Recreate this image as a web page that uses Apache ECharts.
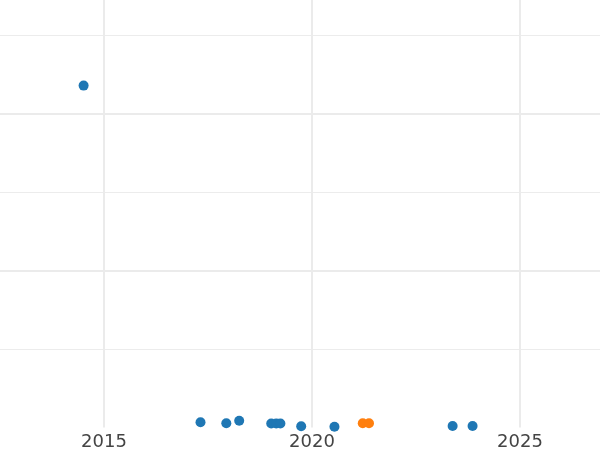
<!DOCTYPE html>
<html>
<head>
<meta charset="utf-8">
<script src="https://cdn.jsdelivr.net/npm/echarts@6/dist/echarts.min.js"></script>
<style>
html,body{margin:0;padding:0;background:#fff;width:600px;height:450px;overflow:hidden;position:relative;}
#c{position:absolute;left:-104px;top:-43px;width:832px;height:493px;}
</style>
</head>
<body>
<div id="c"></div>
<script>
const blueX = [2014.51, 2017.32, 2017.94, 2018.25, 2019.02, 2019.14, 2019.24, 2019.74, 2020.54, 2023.38, 2023.86];
const blueY = [4.36, 0.066, 0.054, 0.087, 0.05, 0.052, 0.05, 0.015, 0.01, 0.02, 0.02];
const orangeX = [2021.22, 2021.37];
const orangeY = [0.054, 0.054];
const xTicks = [2015, 2020, 2025];

const chart = echarts.init(document.getElementById('c'), null, {renderer: 'canvas'});
chart.setOption({
  animation: false,
  backgroundColor: '#ffffff',
  grid: {left: 0, right: 0, top: 0, bottom: 22.5, containLabel: false, outerBoundsMode: 'none'},
  xAxis: {
    type: 'value', min: 2010, max: 2030, interval: 5,
    axisLine: {show: false}, axisTick: {show: false},
    axisLabel: {
      color: '#444', fontFamily: 'DejaVu Sans', fontSize: 18, margin: 6,
      formatter: v => xTicks.includes(v) ? String(v) : ''
    },
    splitLine: {show: true, lineStyle: {color: '#ebebeb', width: 2}}
  },
  yAxis: {
    type: 'value', min: 0, max: 6, interval: 2,
    axisLine: {show: false}, axisTick: {show: false}, axisLabel: {show: false},
    splitLine: {show: true, showMinLine: false, lineStyle: {color: '#ebebeb', width: 2}},
    minorTick: {show: false, splitNumber: 2},
    minorSplitLine: {show: true, lineStyle: {color: '#ececec', width: 1}}
  },
  series: [
    {type: 'scatter', symbolSize: 10, itemStyle: {color: '#1f77b4', opacity: 1},
     data: blueX.map((x, i) => [x, blueY[i]])},
    {type: 'scatter', symbolSize: 10, itemStyle: {color: '#ff7f0e', opacity: 1},
     data: orangeX.map((x, i) => [x, orangeY[i]])}
  ]
});
</script>
</body>
</html>
